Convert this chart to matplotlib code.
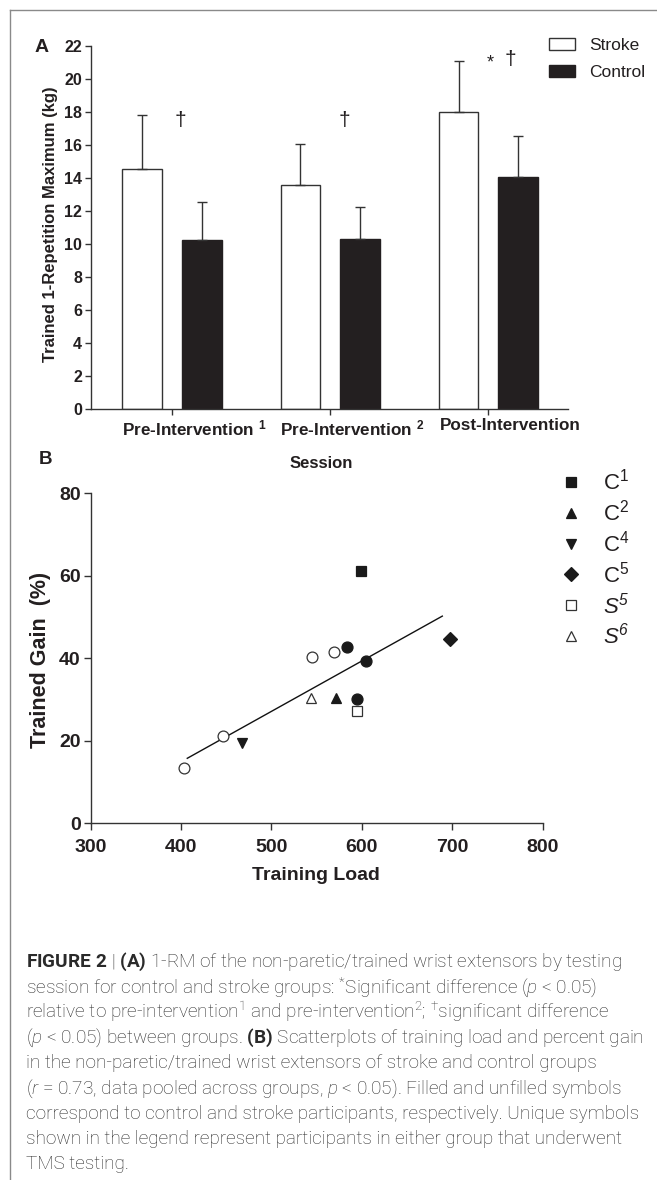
import matplotlib
matplotlib.use('Agg')
import numpy as np
import matplotlib.pyplot as plt
from matplotlib.lines import Line2D
from matplotlib.patches import Patch
import matplotlib.transforms as mtrans

plt.rcParams['font.family'] = ['Liberation Sans', 'DejaVu Sans']
plt.rcParams['mathtext.fontset'] = 'custom'
plt.rcParams['mathtext.rm'] = 'Roboto:light'
plt.rcParams['mathtext.it'] = 'Roboto:italic:light'
plt.rcParams['mathtext.bf'] = 'Roboto:bold'

INK = '#231f20'
LINE = '#333333'

# ---- panel A data ----
sessions = [r'Pre-Intervention $^{\mathregular{1}}$',
            r'Pre-Intervention $^{\mathregular{2}}$',
            'Post-Intervention']
stroke_mean = [14.53, 13.60, 18.00]
stroke_err = [3.31, 2.48, 3.10]
control_mean = [10.27, 10.31, 14.05]
control_err = [2.29, 1.94, 2.49]
# significance marks (x in session units, y in kg)
sig_text = ['†', '†', '*', '†']
sig_x = [0.05, 1.088, 2.01, 2.136]
sig_y = [17.5, 17.5, 21.0, 21.2]

# ---- panel B data ----
stroke_load = [403, 447, 545, 569]
stroke_gain = [13.4, 21.1, 40.4, 41.6]
control_load = [584, 605, 595]
control_gain = [42.6, 39.2, 30.1]
tms_names = ['C1', 'C2', 'C4', 'C5', 'S5', 'S6']
tms_load = [599, 571, 467, 698, 595, 544]
tms_gain = [61.1, 30.3, 19.3, 44.6, 27.1, 30.3]
tms_marker = ['s', '^', 'v', 'D', 's', '^']
tms_filled = [True, True, True, True, False, False]
fit_load = [407, 689]
fit_gain = [15.7, 50.2]

caption = [
    r'$\mathbf{FIGURE\ 2}$ | $\mathbf{(A)}$ 1-RM of the non-paretic/trained wrist extensors by testing',
    r'session for control and stroke groups: $^{*}$Significant difference ($\mathit{p}$ < 0.05)',
    r'relative to pre-intervention$^{1}$ and pre-intervention$^{2}$; $^{\dagger}$significant difference',
    r'($\mathit{p}$ < 0.05) between groups. $\mathbf{(B)}$ Scatterplots of training load and percent gain',
    r'in the non-paretic/trained wrist extensors of stroke and control groups',
    r'($\mathit{r}$ = 0.73, data pooled across groups, $\mathit{p}$ < 0.05). Filled and unfilled symbols',
    r'correspond to control and stroke participants, respectively. Unique symbols',
    r'shown in the legend represent participants in either group that underwent',
    r'TMS testing.',
]

W, H = 657, 1180
fig = plt.figure(figsize=(W / 100, H / 100), dpi=100)


def box(l, r, t, b):
    return [l / W, 1 - b / H, (r - l) / W, (b - t) / H]


def style_axes(ax):
    for s in ['top', 'right']:
        ax.spines[s].set_visible(False)
    for s in ['left', 'bottom']:
        ax.spines[s].set_color(LINE)
        ax.spines[s].set_linewidth(1.0)
    ax.tick_params(direction='out', length=4.5, width=1.0, color=LINE,
                   labelcolor=INK)


# ---------------- panel A ----------------
axA = fig.add_axes(box(91, 568, 46, 409))
style_axes(axA)
x = np.arange(len(sessions))
w = 0.25
off = 0.188
zero = np.zeros(len(x))
axA.bar(x - off, stroke_mean, w, color='white', edgecolor=LINE, linewidth=1.0,
        yerr=[zero, stroke_err], error_kw=dict(ecolor=LINE, elinewidth=1.0,
                                               capsize=3.5, capthick=1.0),
        label='Stroke')
axA.bar(x + off, control_mean, w, color=INK, edgecolor=INK, linewidth=1.0,
        yerr=[zero, control_err], error_kw=dict(ecolor=LINE, elinewidth=1.0,
                                                capsize=3.5, capthick=1.0),
        label='Control')
axA.set_xlim(-0.512, 2.503)
axA.set_ylim(0, 22)
axA.set_yticks(np.arange(0, 23, 2))
axA.set_xticks(x)
axA.set_xticklabels(sessions)
axA.tick_params(axis='y', labelsize=11.5, pad=2.0)
axA.tick_params(axis='x', labelsize=12.3, pad=2.0)
for lab in axA.get_yticklabels() + axA.get_xticklabels():
    lab.set_fontweight('bold')
shift = mtrans.ScaledTranslation(0.22, 0, fig.dpi_scale_trans)
for lab in axA.get_xticklabels():
    lab.set_transform(lab.get_transform() + shift)

for t, sx, sy in zip(sig_text, sig_x, sig_y):
    axA.text(sx, sy, t, ha='center', va='center',
             fontsize=15 if t == '†' else 13, color=INK)

axA.set_ylabel('Trained 1-Repetition Maximum (kg)', fontsize=12,
               fontweight='bold', color=INK)
axA.yaxis.set_label_coords(-0.069, 0.51)
axA.set_xlabel('Session', fontsize=12, fontweight='bold', color=INK)
axA.xaxis.set_label_coords(0.482, -0.129)

legA = axA.legend(handles=[Patch(facecolor='white', edgecolor=LINE, linewidth=1.0),
                           Patch(facecolor=INK, edgecolor=INK)],
                  labels=['Stroke', 'Control'], loc='upper left',
                  bbox_to_anchor=(549 / W, 1 - 38 / H),
                  bbox_transform=fig.transFigure, frameon=False,
                  fontsize=12.5, handlelength=1.5, handleheight=0.65,
                  handletextpad=0.8, labelspacing=0.68, borderpad=0,
                  borderaxespad=0)
for t in legA.get_texts():
    t.set_color(INK)

# ---------------- panel B ----------------
axB = fig.add_axes(box(90.5, 542.7, 493.3, 823))
style_axes(axB)
axB.tick_params(length=5)
axB.plot(fit_load, fit_gain, color='#111111', linewidth=1.0, zorder=2)
axB.plot(stroke_load, stroke_gain, ls='none', marker='o', ms=7.8,
         mfc='white', mec=LINE, mew=0.9, zorder=3)
axB.plot(control_load, control_gain, ls='none', marker='o', ms=7.8,
         mfc='#1a1a1a', mec='#1a1a1a', zorder=3)
handles = []
for name, lx, gy, mk, filled in zip(tms_names, tms_load, tms_gain,
                                     tms_marker, tms_filled):
    ms = 6.8 if mk == 'D' else 7.8
    fc = '#1a1a1a' if filled else 'white'
    ec = '#1a1a1a' if filled else LINE
    h, = axB.plot([lx], [gy], ls='none', marker=mk, ms=ms, mfc=fc, mec=ec,
                  mew=0.9, zorder=3)
    handles.append(h)
labels = [r'%s$^{\mathregular{%s}}$' % (n[0], n[1:]) for n in tms_names]
legB = axB.legend(handles=handles, labels=labels, loc='upper left',
                  bbox_to_anchor=(560 / W, 1 - 469 / H),
                  bbox_transform=fig.transFigure, frameon=False,
                  fontsize=16, handlelength=1.0, handletextpad=0.95,
                  labelspacing=0.22, borderpad=0, borderaxespad=0)
for t in legB.get_texts():
    t.set_color(INK)
    if t.get_text().startswith('S'):
        t.set_fontstyle('italic')

axB.set_xlim(300, 800)
axB.set_ylim(0, 80)
axB.set_xticks(np.arange(300, 801, 100))
axB.set_yticks(np.arange(0, 81, 20))
axB.tick_params(axis='x', labelsize=14, pad=6.5)
axB.tick_params(axis='y', labelsize=14, pad=2.0)
for lab in axB.get_yticklabels() + axB.get_xticklabels():
    lab.set_fontweight('bold')
axB.set_xlabel('Training Load', fontsize=14, fontweight='bold', color=INK)
axB.xaxis.set_label_coords(0.498, -0.132)
axB.set_ylabel('Trained Gain  (%)', fontsize=15.5, fontweight='bold', color=INK)
axB.yaxis.set_label_coords(-0.087, 0.494)

# panel letters
fig.text(42 / W, 1 - 47 / H, 'A', fontsize=14, fontweight='bold', color=INK,
         ha='center', va='center')
fig.text(46 / W, 1 - 459 / H, 'B', fontsize=13.5, fontweight='bold', color=INK,
         ha='center', va='center')

# caption
for i, line in enumerate(caption):
    fig.text(26 / W, 1 - (967 + i * 25.3) / H, line, fontsize=13.7,
             family=['Roboto', 'DejaVu Sans'], fontweight='light',
             color='#2a2a2a', ha='left', va='baseline')

# frame lines at top and left
fig.add_artist(Line2D([10 / W, 1], [1 - 10 / H, 1 - 10 / H], color='#8a8a8a',
                      linewidth=1.0, transform=fig.transFigure))
fig.add_artist(Line2D([10 / W, 10 / W], [1 - 10 / H, 0], color='#8a8a8a',
                      linewidth=1.0, transform=fig.transFigure))

fig.savefig('out.png', dpi=100)
